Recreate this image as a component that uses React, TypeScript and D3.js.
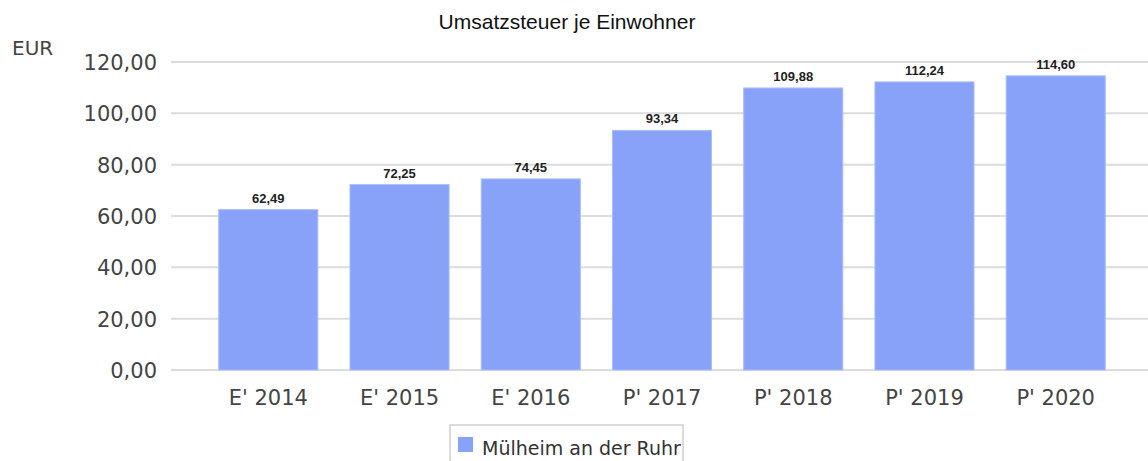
import React from "react";
import * as d3 from "d3";

const categories = ["E' 2014", "E' 2015", "E' 2016", "P' 2017", "P' 2018", "P' 2019", "P' 2020"];
const values = [62.49, 72.25, 74.45, 93.34, 109.88, 112.24, 114.6];
const yTicks = [0, 20, 40, 60, 80, 100, 120];
const seriesName = "Mülheim an der Ruhr";
const title = "Umsatzsteuer je Einwohner";
const unit = "EUR";

const W = 1148;
const H = 461;
const fmt = (v: number) => v.toFixed(2).replace(".", ",");

export default function App() {
  const y = d3.scaleLinear().domain([0, 120]).range([370, 62]);
  const x = d3.scaleBand<string>().domain(categories).range([203, 1121]).paddingInner(0.245).paddingOuter(0.12);
  const axisFont = "'DejaVu Sans', Verdana, sans-serif";
  return (
    <svg width={W} height={H} style={{ position: "absolute", left: 0, top: 0, background: "#fff" }}>
      <text x={567} y={29} textAnchor="middle" fontFamily="'Liberation Sans', Arial, sans-serif" fontSize={21} fill="#111">{title}</text>
      <text x={12} y={55} fontFamily={axisFont} fontSize={20} fill="#444">{unit}</text>
      {yTicks.map((t) => (
        <g key={t}>
          <line x1={171} x2={W} y1={y(t)} y2={y(t)} stroke="#dcdcdc" strokeWidth={2} />
          <text x={157} y={y(t) + 8} textAnchor="end" fontFamily={axisFont} fontSize={21} fill="#444">{fmt(t)}</text>
        </g>
      ))}
      {categories.map((c, i) => (
        <g key={c}>
          <rect x={x(c)} y={y(values[i])} width={x.bandwidth()} height={y(0) - y(values[i])} fill="#87a2f8" stroke="#a9bdfa" strokeWidth={1} />
          <text x={(x(c) as number) + x.bandwidth() / 2} y={y(values[i]) - 7} textAnchor="middle" fontFamily="'Liberation Sans', Arial, sans-serif" fontSize={13} fontWeight="bold" fill="#222">{fmt(values[i])}</text>
          <text x={(x(c) as number) + x.bandwidth() / 2} y={405} textAnchor="middle" fontFamily={axisFont} fontSize={21} fill="#444">{c}</text>
        </g>
      ))}
      <rect x={450} y={425} width={233} height={45} fill="#fff" stroke="#d0d0d0" strokeWidth={1.5} />
      <rect x={458} y={437} width={15} height={15} fill="#87a2f8" />
      <text x={482} y={455} fontFamily={axisFont} fontSize={19} fill="#333">{seriesName}</text>
    </svg>
  );
}
